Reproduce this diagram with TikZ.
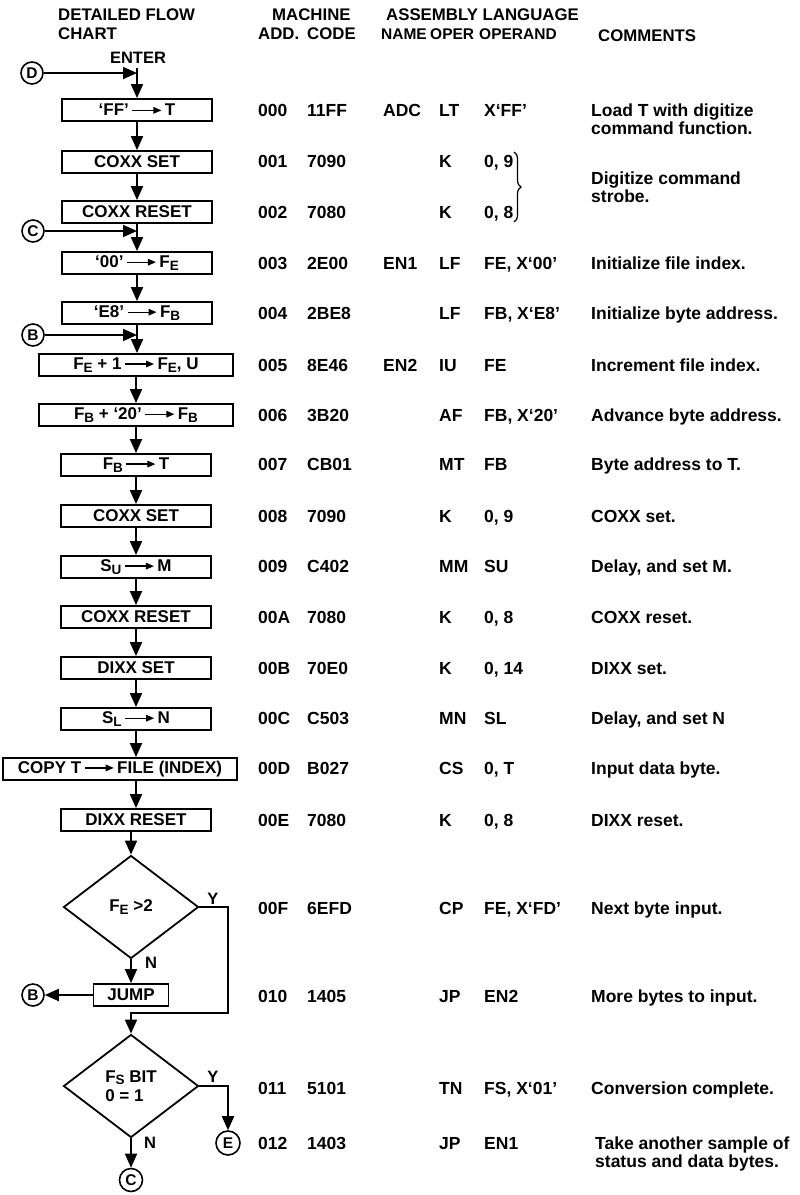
\documentclass[tikz,border=0pt]{standalone}
\usepackage{fontspec}
\setmainfont{Liberation Sans}
\usetikzlibrary{arrows.meta,shapes.geometric,decorations.pathreplacing}
\newcommand\sbx[1]{\raisebox{-0.28ex}{\fontsize{13.5}{14}\selectfont #1}}
\newcommand\rar{\,\tikz[baseline={(0pt,-5.5pt)}]{\draw[line width=1.3pt,-{Triangle[length=8pt,width=6.5pt]}] (0pt,0pt) -- (29pt,0pt);}\,}
\begin{document}
\begin{tikzpicture}[x=1pt,y=-1pt,
  box/.style={draw,line width=1.8pt,minimum height=22pt,inner sep=0pt,font=\bfseries\fontsize{17}{20}\selectfont},
  dia/.style={draw,diamond,line width=1.8pt,minimum width=135pt,minimum height=103pt,inner sep=0pt,font=\bfseries\fontsize{17}{19}\selectfont,align=left},
  conn/.style={draw,circle,line width=1.6pt,minimum size=22pt,inner sep=0pt,font=\bfseries\fontsize{15.5}{16}\selectfont},
  flow/.style={line width=1.8pt,-{Triangle[length=14pt,width=12pt]}},
  cell/.style={anchor=base west,inner sep=0pt,font=\bfseries\fontsize{17.5}{20}\selectfont},
  hd/.style={anchor=base west,inner sep=0pt,font=\bfseries\fontsize{16.8}{20}\selectfont},
  hds/.style={anchor=base west,inner sep=0pt,font=\bfseries\fontsize{15.5}{20}\selectfont},
  lbl/.style={inner sep=0pt,font=\bfseries\fontsize{16.5}{18}\selectfont}]
\fill[white] (0,0) rectangle (800,1195);
\useasboundingbox (0,0) rectangle (800,1195);

% headers
\node[hd] (h1) at (58,20) {DETAILED FLOW};
\node[hd] (h2) at (58,39) {CHART};
\node[hd] (h3) at (272,20) {MACHINE};
\node[hd] (h4) at (258,39) {ADD.};
\node[hd] (h5) at (307,39) {CODE};
\node[hd] (h6) at (386,20) {ASSEMBLY LANGUAGE};
\node[hds] (h7) at (381,39) {NAME};
\node[hds] (h8) at (430,39) {OPER};
\node[hds] (h9) at (479,39) {OPERAND};
\node[hd] (h10) at (598,41) {COMMENTS};

% flow chart
\node[lbl,anchor=base] (enter) at (138,63) {ENTER};
\node[conn] (D) at (32,73) {D};
\coordinate (ent) at (137,68);
\node[box,minimum width=150pt] (b0) at (137,110) {‘FF’\rar T};
\node[box,minimum width=150pt] (b1) at (137,162) {COXX SET};
\node[box,minimum width=150pt] (b2) at (137,212) {COXX RESET};
\node[box,minimum width=150pt] (b3) at (137,263) {‘00’\rar F\sbx{E}};
\node[box,minimum width=150pt] (b4) at (137,313) {‘E8’\rar F\sbx{B}};
\node[box,minimum width=194pt] (b5) at (136,365) {F\sbx{E} + 1\rar F\sbx{E}, U};
\node[box,minimum width=194pt] (b6) at (136,415) {F\sbx{B} + ‘20’\rar F\sbx{B}};
\node[box,minimum width=150pt] (b7) at (136,465) {F\sbx{B}\rar T};
\node[box,minimum width=150pt] (b8) at (136,516) {COXX SET};
\node[box,minimum width=150pt] (b9) at (136,567) {S\sbx{U}\rar M};
\node[box,minimum width=150pt] (b10) at (136,617) {COXX RESET};
\node[box,minimum width=150pt] (b11) at (136,668) {DIXX SET};
\node[box,minimum width=150pt] (b12) at (136,719) {S\sbx{L}\rar N};
\node[box,minimum width=234pt] (b13) at (120,769) {COPY T\rar FILE (INDEX)};
\node[box,minimum width=150pt] (b14) at (136,820) {DIXX RESET};
\node[dia] (d1) at (131,907) {F\sbx{E} >2};
\node[box,minimum width=75pt] (jump) at (131,995) {JUMP};
\node[dia] (d2) at (131,1086) {F\sbx{S} BIT\\0 = 1};
\node[conn] (C) at (33,231) {C};
\node[conn] (B) at (33,335) {B};
\node[conn] (B2) at (33,995) {B};
\node[conn,minimum size=24pt] (E) at (228,1143) {E};
\node[conn,minimum size=23pt] (C2) at (131,1180) {C};

\draw[flow] (ent) -- (b0.north);
\draw[flow] (D) -- (D -| ent);
\draw[flow] (b0.south) -- (b0.south |- b1.north);
\draw[flow] (b1.south) -- (b1.south |- b2.north);
\draw[flow] (b2.south) -- (b2.south |- b3.north);
\draw[flow] (C) -- (C -| b3.north);
\draw[flow] (b3.south) -- (b3.south |- b4.north);
\draw[flow] (b4.south) -- (b4.south |- b5.north);
\draw[flow] (B) -- (B -| b4.south);
\draw[flow] (b5.south) -- (b5.south |- b6.north);
\draw[flow] (b6.south) -- (b6.south |- b7.north);
\draw[flow] (b7.south) -- (b7.south |- b8.north);
\draw[flow] (b8.south) -- (b8.south |- b9.north);
\draw[flow] (b9.south) -- (b9.south |- b10.north);
\draw[flow] (b10.south) -- (b10.south |- b11.north);
\draw[flow] (b11.south) -- (b11.south |- b12.north);
\draw[flow] (b12.south) -- (b12.south |- b13.north);
\draw[flow] (b14.north |- b13.south) -- (b14.north);
\draw[flow] (d1.north |- b14.south) -- (d1.north);
\draw[flow] (d1.south) -- (d1.south |- jump.north);
\draw[flow] (jump.west) -- (B2.east);
\coordinate (y1a) at (228,907);
\coordinate (y1b) at (228,1013);
\draw[flow] (d1.east) -- (y1a) -- (y1b) -- (y1b -| d2.north) -- (d2.north);
\coordinate (y2a) at (228,1086);
\draw[flow] (d2.east) -- (y2a) -- (E.north);
\draw[flow] (d2.south) -- (C2.north);
\node[lbl] (ly1) at (213,899) {Y};
\node[lbl] (ln1) at (151,963) {N};
\node[lbl] (ly2) at (213,1077) {Y};
\node[lbl] (ln2) at (150,1143) {N};

% table
\foreach \yy/\ad/\cd/\op/\opd [count=\i] in {110/000/11FF/LT/{X‘FF’}, 161/001/7090/K/{0, 9}, 212/002/7080/K/{0, 8}, 263/003/2E00/LF/{FE, X‘00’}, 313/004/2BE8/LF/{FB, X‘E8’}, 365/005/8E46/IU/FE, 415/006/3B20/AF/{FB, X‘20’}, 464/007/CB01/MT/FB, 516/008/7090/K/{0, 9}, 566/009/C402/MM/SU, 617/00A/7080/K/{0, 8}, 668/00B/70E0/K/{0, 14}, 718/00C/C503/MN/SL, 768/00D/B027/CS/{0, T}, 820/00E/7080/K/{0, 8}, 908/00F/6EFD/CP/{FE, X‘FD’}, 996/010/1405/JP/EN2, 1088/011/5101/TN/{FS, X‘01’}, 1143/012/1403/JP/EN1} {
  \node[cell] (add\i) at (258,{\yy+6}) {\ad};
  \node[cell] (code\i) at (307,{\yy+6}) {\cd};
  \node[cell] (oper\i) at (439,{\yy+6}) {\op};
  \node[cell] (opd\i) at (484,{\yy+6}) {\opd};
}
\node[cell] (n0) at (383,116) {ADC};
\node[cell] (n3) at (383,269) {EN1};
\node[cell] (n5) at (383,371) {EN2};

\draw[line width=1.2pt,decorate,decoration={brace,amplitude=7pt}] (514,152) -- (514,222);

\node[cell] (c0a) at (591,116) {Load T with digitize};
\node[cell] (c0b) at (591,134) {command function.};
\node[cell] (c1a) at (591,184) {Digitize command};
\node[cell] (c1b) at (591,202) {strobe.};
\node[cell] (c3) at (591,269) {Initialize file index.};
\node[cell] (c4) at (591,319) {Initialize byte address.};
\node[cell] (c5) at (591,371) {Increment file index.};
\node[cell] (c6) at (591,421) {Advance byte address.};
\node[cell] (c7) at (591,470) {Byte address to T.};
\node[cell] (c8) at (591,522) {COXX set.};
\node[cell] (c9) at (591,572) {Delay, and set M.};
\node[cell] (c10) at (591,623) {COXX reset.};
\node[cell] (c11) at (591,674) {DIXX set.};
\node[cell] (c12) at (591,724) {Delay, and set N};
\node[cell] (c13) at (591,774) {Input data byte.};
\node[cell] (c14) at (591,826) {DIXX reset.};
\node[cell] (c15) at (591,914) {Next byte input.};
\node[cell] (c16) at (591,1002) {More bytes to input.};
\node[cell] (c17) at (591,1094) {Conversion complete.};
\node[cell] (c18a) at (595,1149) {Take another sample of};
\node[cell] (c18b) at (595,1167) {status and data bytes.};
\end{tikzpicture}
\end{document}
